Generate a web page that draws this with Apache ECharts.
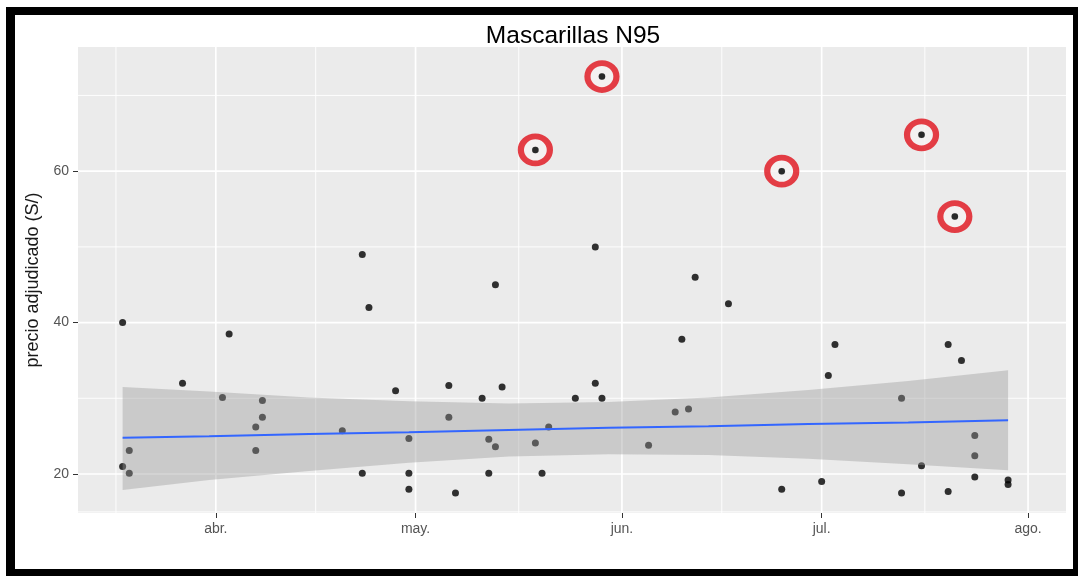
<!DOCTYPE html>
<html>
<head>
<meta charset="utf-8">
<title>Mascarillas N95</title>
<script src="https://cdn.jsdelivr.net/npm/echarts@6/dist/echarts.min.js"></script>
<style>
  html, body { margin: 0; padding: 0; background: #ffffff; }
  #chart { width: 1078px; height: 576px; }
</style>
</head>
<body>
<div id="chart"></div>
<script>
// Adjudicated unit prices of N95 masks by award date
const dates = [
  '2020-03-18', '2020-03-18', '2020-03-19', '2020-03-19', '2020-03-27',
  '2020-04-02', '2020-04-03', '2020-04-07', '2020-04-07', '2020-04-08',
  '2020-04-08', '2020-04-20', '2020-04-23', '2020-04-23', '2020-04-24',
  '2020-04-28', '2020-04-30', '2020-04-30', '2020-04-30', '2020-05-06',
  '2020-05-06', '2020-05-07', '2020-05-11', '2020-05-12', '2020-05-12',
  '2020-05-13', '2020-05-13', '2020-05-14', '2020-05-19', '2020-05-19',
  '2020-05-20', '2020-05-21', '2020-05-25', '2020-05-28', '2020-05-28',
  '2020-05-29', '2020-05-29', '2020-06-05', '2020-06-09', '2020-06-10',
  '2020-06-11', '2020-06-12', '2020-06-17', '2020-06-25', '2020-06-25',
  '2020-07-01', '2020-07-02', '2020-07-03', '2020-07-13', '2020-07-13',
  '2020-07-16', '2020-07-16', '2020-07-20', '2020-07-20', '2020-07-21',
  '2020-07-22', '2020-07-24', '2020-07-24', '2020-07-24', '2020-07-29',
  '2020-07-29'
];
const prices = [
  40.0, 21.0, 23.1, 20.1, 32.0,
  30.1, 38.5, 26.2, 23.1, 29.7,
  27.5, 25.7, 49.0, 20.1, 42.0,
  31.0, 24.7, 20.1, 18.0, 31.7,
  27.5, 17.5, 30.0, 24.6, 20.1,
  45.0, 23.6, 31.5, 62.8, 24.1,
  20.1, 26.2, 30.0, 50.0, 32.0,
  72.5, 30.0, 23.8, 28.2, 37.8,
  28.6, 46.0, 42.5, 60.0, 18.0,
  19.0, 33.0, 37.1, 30.0, 17.5,
  64.8, 21.1, 37.1, 17.7, 54.0,
  35.0, 25.1, 22.4, 19.6, 19.2,
  18.6
];

// Linear trend with its confidence band
const fitDates  = ['2020-03-18', '2020-03-31', '2020-04-15', '2020-04-30', '2020-05-15',
                   '2020-05-30', '2020-06-14', '2020-06-29', '2020-07-14', '2020-07-29'];
const fitValues = [24.8, 25.0, 25.3, 25.5, 25.8, 26.1, 26.3, 26.6, 26.8, 27.1];
const fitUpper  = [31.5, 30.9, 30.1, 29.6, 29.3, 29.5, 30.1, 31.1, 32.3, 33.7];
const fitLower  = [17.9, 19.2, 20.4, 21.5, 22.3, 22.6, 22.5, 22.0, 21.3, 20.5];

// Axis breaks and labels
const monthBreaks = ['2020-04-01', '2020-05-01', '2020-06-01', '2020-07-01', '2020-08-01'];
const monthLabels = ['abr.', 'may.', 'jun.', 'jul.', 'ago.'];
const priceBreaks = [20, 40, 60];

// Prices above this level are ringed
const highlightAbove = 52;

const DAY_MS = 86400000;
const YEAR_START = Date.UTC(2020, 0, 1);
const toDay = s => (Date.parse(s + 'T00:00:00Z') - YEAR_START) / DAY_MS;

const monthDays = monthBreaks.map(toDay);
const points = dates.map((d, i) => [toDay(d), prices[i]]);
const ringed = points.filter(p => p[1] > highlightAbove);
const fitDays = fitDates.map(toDay);
const fitLine = fitDays.map((d, i) => [d, fitValues[i]]);

// Minor breaks sit halfway between majors (one extra step before the first)
const xMajor = monthDays;
const xMinor = [xMajor[0] - (xMajor[1] - xMajor[0])].concat(xMajor)
  .slice(0, -1).map((d, i) => (d + xMajor[i]) / 2);
const yMajor = priceBreaks;
const yMinor = [10].concat(priceBreaks).slice(0, -1).map((v, i) => (v + priceBreaks[i]) / 2)
  .concat([priceBreaks[priceBreaks.length - 1] + 10]);

const X_MIN = 70.3, X_MAX = 218.7;
const Y_MIN = 14.85, Y_MAX = 76.4;

const chart = echarts.init(document.getElementById('chart'));

const FONT = '"Liberation Sans", Arial, sans-serif';

chart.setOption({
  animation: false,
  backgroundColor: '#ffffff',
  grid: {
    left: 78, right: 12, top: 47, bottom: 63,
    show: true, backgroundColor: '#EBEBEB', borderWidth: 0
  },
  xAxis: {
    type: 'value',
    min: X_MIN, max: X_MAX,
    axisLine: { show: false },
    splitLine: { show: false },
    axisTick: {
      show: true, length: 5, customValues: monthDays,
      lineStyle: { color: '#333333', width: 1 }
    },
    axisLabel: {
      customValues: monthDays,
      margin: 9,
      color: '#555555', fontSize: 14, fontFamily: FONT,
      formatter: v => {
        const i = monthDays.findIndex(d => Math.abs(d - v) < 0.01);
        return i >= 0 ? monthLabels[i] : '';
      }
    }
  },
  yAxis: {
    type: 'value',
    min: Y_MIN, max: Y_MAX,
    axisLine: { show: false },
    splitLine: { show: false },
    axisTick: {
      show: true, length: 5, customValues: priceBreaks,
      lineStyle: { color: '#333333', width: 1 }
    },
    axisLabel: {
      customValues: priceBreaks,
      margin: 9,
      color: '#555555', fontSize: 14, fontFamily: FONT
    },
    name: 'precio adjudicado (S/)',
    nameLocation: 'middle',
    nameGap: 32,
    nameTextStyle: { color: '#1A1A1A', fontSize: 18, fontFamily: FONT }
  },
  graphic: [
    {
      type: 'text', x: 573, y: 36, z: 10,
      style: {
        text: 'Mascarillas N95', fill: '#000000',
        fontSize: 24.5, fontFamily: FONT, align: 'center', verticalAlign: 'middle'
      }
    },
    { type: 'rect', shape: { x: 6, y: 7, width: 1072, height: 8 }, style: { fill: '#000' }, z: 20 },
    { type: 'rect', shape: { x: 6, y: 7, width: 9, height: 569 }, style: { fill: '#000' }, z: 20 },
    { type: 'rect', shape: { x: 1073, y: 7, width: 5, height: 569 }, style: { fill: '#000' }, z: 20 },
    { type: 'rect', shape: { x: 6, y: 569, width: 1072, height: 7 }, style: { fill: '#000' }, z: 20 }
  ],
  series: [
    {
      // panel grid lines
      type: 'custom', z: 1, silent: true,
      data: [[100, 30]],
      renderItem: (params, api) => {
        const cs = params.coordSys;
        const children = [];
        const vLine = (d, w) => {
          const x = api.coord([d, Y_MIN])[0];
          children.push({ type: 'line', shape: { x1: x, y1: cs.y, x2: x, y2: cs.y + cs.height },
            style: { stroke: '#ffffff', lineWidth: w } });
        };
        const hLine = (v, w) => {
          const y = api.coord([X_MIN, v])[1];
          children.push({ type: 'line', shape: { x1: cs.x, y1: y, x2: cs.x + cs.width, y2: y },
            style: { stroke: '#ffffff', lineWidth: w } });
        };
        xMinor.forEach(d => { if (d > X_MIN && d < X_MAX) vLine(d, 0.9); });
        yMinor.forEach(v => { if (v > Y_MIN && v < Y_MAX) hLine(v, 0.9); });
        xMajor.forEach(d => vLine(d, 1.7));
        yMajor.forEach(v => hLine(v, 1.7));
        return { type: 'group', children };
      }
    },
    {
      type: 'scatter', z: 3,
      data: points,
      symbol: 'circle', symbolSize: 7,
      itemStyle: { color: '#000000' }
    },
    {
      // confidence band drawn over the points
      type: 'custom', z: 4, silent: true,
      data: [[100, 30]],
      renderItem: (params, api) => {
        const pts = [];
        fitDays.forEach((d, i) => pts.push(api.coord([d, fitUpper[i]])));
        for (let i = fitDays.length - 1; i >= 0; i--) pts.push(api.coord([fitDays[i], fitLower[i]]));
        return { type: 'polygon', shape: { points: pts }, style: { fill: 'rgba(153,153,153,0.4)' } };
      }
    },
    {
      type: 'line', z: 5,
      data: fitLine,
      showSymbol: false, symbol: 'none',
      lineStyle: { color: '#3366FF', width: 2 }
    },
    {
      // red rings around the highest prices
      type: 'scatter', z: 6,
      data: ringed,
      symbol: 'circle', symbolSize: [29, 27],
      itemStyle: { color: '#F6F3F3', borderColor: '#E0101A', borderWidth: 6 }
    },
    {
      type: 'scatter', z: 7,
      data: ringed,
      symbol: 'circle', symbolSize: 6.5,
      itemStyle: { color: '#000000' }
    }
  ]
});
</script>
</body>
</html>
